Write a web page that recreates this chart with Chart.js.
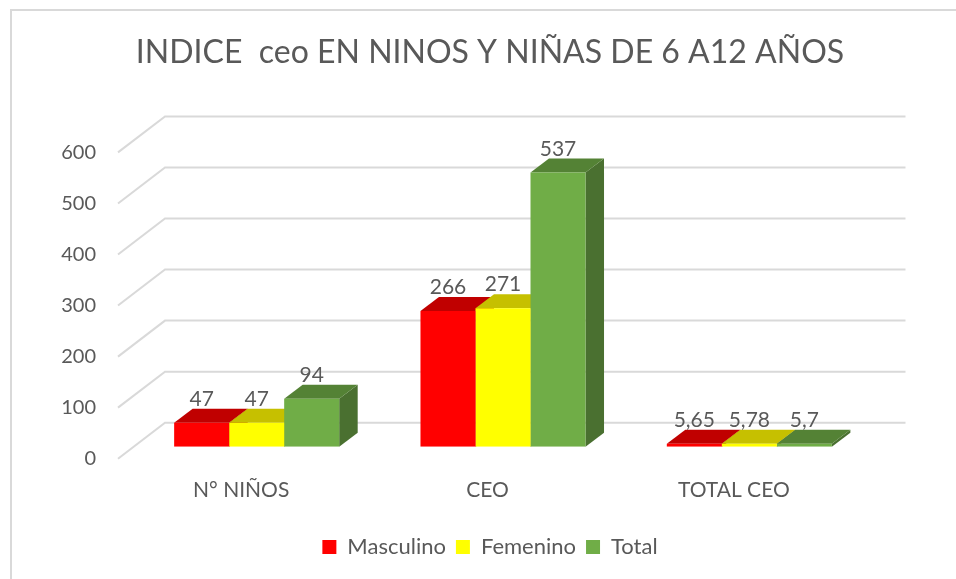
<!DOCTYPE html>
<html><head><meta charset="utf-8">
<script src="https://cdn.jsdelivr.net/npm/chart.js@4.4.0/dist/chart.umd.min.js"></script>
<style>html,body{margin:0;padding:0;background:#fff;overflow:hidden}</style>
</head><body>
<canvas id="c" width="956" height="579" style="display:block;width:956px;height:579px"></canvas>
<script>
const chartTitle = 'INDICE  ceo EN NINOS Y NIÑAS DE 6 A12 AÑOS';
const categories = ['N° NIÑOS', 'CEO', 'TOTAL CEO'];
const seriesNames = ['Masculino', 'Femenino', 'Total'];
const masculino = [47, 266, 5.65];
const femenino = [47, 271, 5.78];
const total = [94, 537, 5.7];
const yMin = 0, yMax = 600, yStep = 100;

const FONT = "Lato, 'Liberation Sans', sans-serif";
const TXT = '#595959';
const frontColors = ['#FF0000', '#FFFF00', '#70AD47'];
const topColors = ['#C00000', '#C6C000', '#548235'];
const sideColors = ['#A00000', '#A8A300', '#4A7030'];
const DX = 18.5, DY = -14;

Chart.defaults.font.family = FONT;
Chart.defaults.color = TXT;

function poly(ctx, pts, fill) {
  ctx.beginPath();
  ctx.moveTo(pts[0][0], pts[0][1]);
  for (let i = 1; i < pts.length; i++) ctx.lineTo(pts[i][0], pts[i][1]);
  ctx.closePath();
  ctx.fillStyle = fill;
  ctx.fill();
}

const threeD = {
  id: 'threeD',
  beforeDraw(chart) {
    const ctx = chart.ctx;
    ctx.save();
    ctx.fillStyle = '#fff';
    ctx.fillRect(0, 0, chart.width, chart.height);
    ctx.strokeStyle = '#d9d9d9';
    ctx.lineWidth = 2;
    ctx.beginPath();
    ctx.moveTo(11, 579); ctx.lineTo(11, 10); ctx.lineTo(956, 10);
    ctx.stroke();
    ctx.restore();
  },
  beforeDatasetsDraw(chart) {
    const {ctx, chartArea: a} = chart;
    const ys = chart.scales.y;
    ctx.save();
    ctx.strokeStyle = '#d9d9d9';
    ctx.lineWidth = 2;
    ys.ticks.forEach(t => {
      const yy = ys.getPixelForValue(t.value);
      ctx.beginPath();
      ctx.moveTo(a.left - 15.5, yy + 12);
      ctx.lineTo(a.left + 31.5, yy - 24);
      ctx.lineTo(a.right + 33, yy - 24);
      ctx.stroke();
    });
    chart.data.datasets.forEach((ds, i) => {
      const meta = chart.getDatasetMeta(i);
      meta.data.forEach(el => {
        const p = el.getProps(['x', 'y', 'base', 'width'], true);
        const x0 = p.x - p.width / 2, x1 = p.x + p.width / 2;
        poly(ctx, [[x1, p.y], [x1 + DX, p.y + DY], [x1 + DX, p.base + DY], [x1, p.base]], sideColors[i]);
        poly(ctx, [[x0, p.y], [x1, p.y], [x1 + DX, p.y + DY], [x0 + DX, p.y + DY]], topColors[i]);
      });
    });
    ctx.restore();
  },
  afterDatasetsDraw(chart) {
    const ctx = chart.ctx;
    ctx.save();
    ctx.font = '21px ' + FONT;
    ctx.fillStyle = TXT;
    ctx.textAlign = 'center';
    ctx.textBaseline = 'alphabetic';
    chart.data.datasets.forEach((ds, i) => {
      const meta = chart.getDatasetMeta(i);
      meta.data.forEach((el, j) => {
        const p = el.getProps(['x', 'y'], true);
        ctx.fillText(String(ds.data[j]).replace('.', ','), p.x, p.y + DY - 3);
      });
    });
    ctx.restore();
  }
};

new Chart(document.getElementById('c'), {
  type: 'bar',
  data: {
    labels: categories,
    datasets: [
      {label: seriesNames[0], data: masculino, backgroundColor: frontColors[0]},
      {label: seriesNames[1], data: femenino, backgroundColor: frontColors[1]},
      {label: seriesNames[2], data: total, backgroundColor: frontColors[2]}
    ]
  },
  options: {
    responsive: false,
    animation: false,
    layout: {padding: {left: 24, right: 0, top: 0, bottom: 11}},
    datasets: {bar: {categoryPercentage: 0.67, barPercentage: 1.0, borderWidth: 0}},
    plugins: {
      title: {display: true, text: chartTitle, color: TXT, font: {size: 32, weight: 'normal', family: FONT}, padding: {top: 33, bottom: 69}},
      legend: {
        position: 'bottom',
        labels: {boxWidth: 14, boxHeight: 14, color: TXT, font: {size: 22, family: FONT}, padding: 10}
      },
      tooltip: {enabled: false}
    },
    scales: {
      x: {
        grid: {display: false, drawTicks: false},
        border: {display: false},
        ticks: {font: {size: 21, family: FONT}, color: TXT, labelOffset: -15.5, padding: 31},
        afterFit(s) { s.height = 79.3; }
      },
      y: {
        min: yMin, max: yMax,
        grid: {display: false, drawTicks: false},
        border: {display: false},
        ticks: {stepSize: yStep, font: {size: 20, family: FONT}, color: TXT, labelOffset: 12, padding: 37.5},
        afterFit(s) { s.width = 109.5; }
      },
      y2: {
        position: 'right',
        display: true,
        grid: {display: false, drawTicks: false},
        border: {display: false},
        ticks: {display: false},
        afterFit(s) { s.width = 83.5; }
      }
    }
  },
  plugins: [threeD]
});
</script>
</body></html>
